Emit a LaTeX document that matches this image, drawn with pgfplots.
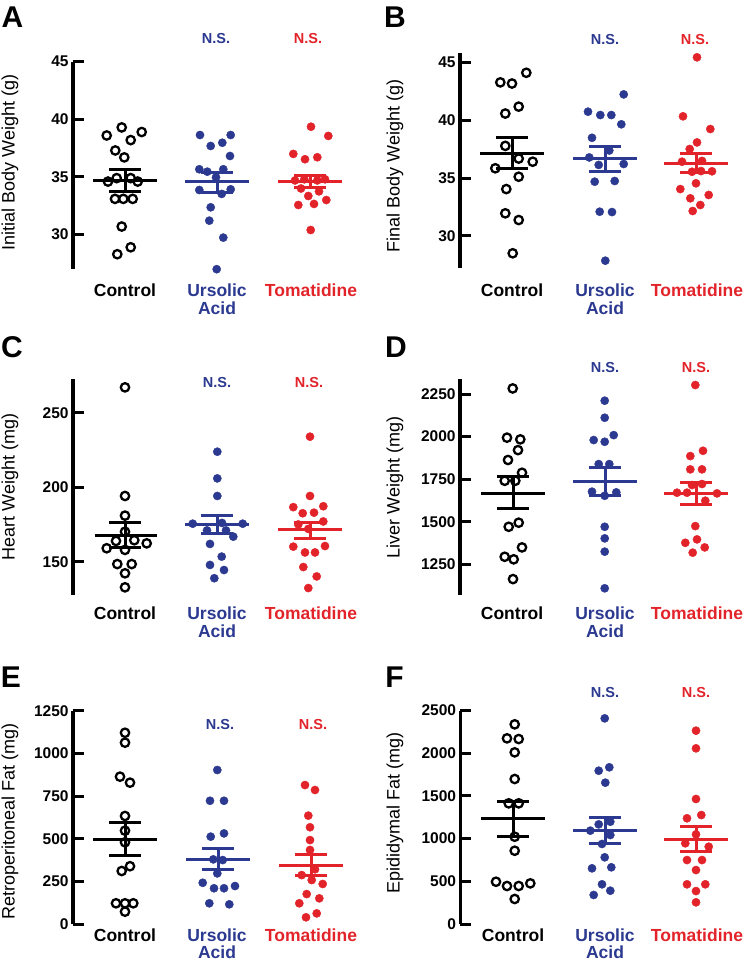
\documentclass[border=0pt]{standalone}
\usepackage{pgfplots}
\pgfplotsset{compat=1.18}
\usepackage{fontspec}
\setmainfont{Liberation Sans}
\definecolor{uablue}{RGB}{43,57,144}
\definecolor{tred}{RGB}{226,35,42}
\newcommand{\tickfont}{\bfseries\fontsize{15.5}{15.5}\selectfont}
\newcommand{\catfont}{\bfseries\fontsize{17.5}{17.5}\selectfont}
\newcommand{\labfont}{\fontsize{18}{18}\selectfont}
\newcommand{\nsfont}{\bfseries\fontsize{14.5}{14.5}\selectfont}
\newcommand{\letfont}{\bfseries\fontsize{30}{30}\selectfont}
\pgfplotsset{
  panel/.style={
    scale only axis, clip=false,
    separate axis lines,
    axis y line*=left, axis x line*=bottom,
    x axis line style={draw=none},
    y axis line style={line width=3.6pt, draw=black, -},
    every outer y axis line/.append style={line width=3.6pt},
    xtick style={draw=none},
    ytick style={line width=3pt, black},
    tick align=inside, major tick length=11pt,
    yticklabel style={font=\tickfont, inner sep=0pt, xshift=-4pt},
    xticklabel style={font=\catfont, inner sep=0pt, anchor=north, align=center},
    /pgf/number format/assume math mode=true,
    /pgf/number format/1000 sep={},
    ylabel style={font=\labfont, anchor=center},
    xticklabels={Control, {\textcolor{uablue}{Ursolic}\\\textcolor{uablue}{Acid}}, \textcolor{tred}{Tomatidine}},
  },
  ctrl/.style={only marks, mark=o, mark size=4.2pt, black, mark options={line width=2.3pt, draw=black}},
  urs/.style={only marks, mark=*, mark size=4.1pt, uablue, mark options={draw=none, fill=uablue}},
  tom/.style={only marks, mark=*, mark size=4.1pt, tred, mark options={draw=none, fill=tred}},
}
% colour, mean-left, mean-right, cap-left, cap-right, centre, mean, lower, upper
\newcommand{\msem}[9]{%
  \addplot[#1, line width=3pt, forget plot] coordinates {(#2,#7) (#3,#7)};
  \addplot[#1, line width=3pt, forget plot] coordinates {(#6,#8) (#6,#9)};
  \addplot[#1, line width=3pt, forget plot] coordinates {(#4,#8) (#5,#8)};
  \addplot[#1, line width=3pt, forget plot] coordinates {(#4,#9) (#5,#9)};
}
\begin{document}
\begin{tikzpicture}
\path[use as bounding box] (0,0) rectangle (745pt,-965pt);

% ---------------- A ----------------
\begin{axis}[panel, at={(72.7pt,-269.2pt)}, anchor=south west,
  width=290pt, height=207.5pt, xmin=72.7, xmax=362.7, ymin=27, ymax=45,
  ytick={30,35,40,45}, xtick={125,217,311},
  xticklabel style={yshift=-14.8pt},
  ylabel={Initial Body Weight (g)},
  ylabel style={at={(axis description cs:-0.2162,0.514)}}]
\addplot[ctrl] coordinates {(121.7,39.3) (141.7,38.9) (106.7,38.6) (130.7,38.2) (115.3,37.3) (124.3,36.7) (108,34.6) (116.7,34.9) (130.7,34.9) (137.7,34.6) (115,33.1) (123.3,33.1) (132.7,33.1) (121.7,30.7) (130.7,28.9) (117.3,28.3)};
\addplot[urs] coordinates {(200,38.64) (230.7,38.64) (210.7,37.69) (222.3,37.97) (230,36.82) (199.3,35.67) (207.3,35.46) (223.3,35.67) (216,34.97) (199.3,33.87) (230.7,33.93) (221.7,33.53) (210.7,32.37) (209.3,31.21) (223.3,29.74) (216.7,27.0)};
\addplot[tom] coordinates {(311,39.36) (328.3,38.56) (293.3,37.0) (305,36.54) (317.3,36.71) (295,34.7) (304.3,34.8) (317.3,34.7) (325,34.8) (301,34.0) (319,33.75) (308.3,33.35) (326.3,33.0) (298.3,32.57) (314,32.66) (310.7,30.4)};
\msem{black}{93}{157}{109}{141}{125}{34.72}{33.75}{35.69}
\msem{uablue}{185}{249}{201}{233}{217}{34.57}{33.67}{35.43}
\msem{tred}{278}{342}{294}{326}{310}{34.63}{34.1}{35.17}
\end{axis}

% ---------------- B ----------------
\begin{axis}[panel, at={(459.7pt,-268.3pt)}, anchor=south west,
  width=280pt, height=214.8pt, xmin=459.7, xmax=739.7, ymin=27.2, ymax=45.8,
  ytick={30,35,40,45}, xtick={512,605,697},
  xticklabel style={yshift=-15.7pt},
  ylabel={Final Body Weight (g)},
  ylabel style={at={(axis description cs:-0.2311,0.477)}}]
\addplot[ctrl] coordinates {(500.3,43.3) (512,43.2) (526.3,44.13) (505.3,40.6) (518.7,41.2) (505.3,37.8) (518.7,36.7) (495.3,35.86) (532.7,36.43) (518.7,35.13) (506.3,34.06) (505.3,31.96) (518.7,31.38) (512.7,28.5)};
\addplot[urs] coordinates {(588,40.76) (600.3,40.47) (611.3,40.47) (623.7,42.26) (621.3,39.67) (592,38.5) (589.3,36.8) (609.3,37.4) (598.7,36.15) (623.7,36.23) (594.7,34.7) (614.7,34.76) (599.7,32.1) (612,32.07) (605.3,27.86)};
\addplot[tom] coordinates {(697,45.47) (683,40.36) (710.3,39.26) (697,38.1) (689.7,37.53) (682,36.43) (702,36.5) (692,35.56) (701,35.62) (712,35.6) (680.3,34.06) (696,34.56) (708.7,33.55) (690.3,33.26) (700.3,32.68) (692.7,32.16)};
\msem{black}{480}{544}{496}{528}{512}{37.16}{35.86}{38.54}
\msem{uablue}{573}{637}{589}{621}{605}{36.72}{35.62}{37.73}
\msem{tred}{664}{728}{680}{712}{696}{36.29}{35.48}{37.16}
\end{axis}

% ---------------- C ----------------
\begin{axis}[panel, at={(72.7pt,-594.9pt)}, anchor=south west,
  width=290pt, height=215.6pt, xmin=72.7, xmax=362.7, ymin=127.7, ymax=272.4,
  ytick={150,200,250}, xtick={125,217,311},
  xticklabel style={yshift=-11.8pt},
  ylabel={Heart Weight (mg)},
  ylabel style={at={(axis description cs:-0.2162,0.5)}}]
\addplot[ctrl] coordinates {(125,267) (125,194.1) (125,180.9) (125,170.1) (116,163.9) (134.3,164.4) (106.7,159) (146.7,162.3) (125,157.9) (117.3,148.4) (131.7,148.4) (125,142.2) (125,132.8)};
\addplot[urs] coordinates {(217.3,223.8) (217.3,205.9) (217.3,194.1) (192.7,175.5) (207,171) (222,176) (226,171) (242.7,175.5) (233.3,166.8) (210,161.9) (221.7,153.4) (210,147.8) (224,144.4) (214.3,138.9)};
\addplot[tom] coordinates {(310,233.9) (310,194.1) (293.3,186.6) (323.3,187.2) (302.7,182.5) (314,182.9) (323.3,177) (298.3,175) (308.3,172) (293.3,160.1) (325,160.5) (305,156.2) (315,156.2) (303.3,146.4) (316.7,140.1) (308.3,132.3)};
\msem{black}{95}{157}{109}{141}{125}{167.9}{159.4}{176.4}
\msem{uablue}{185}{249}{201}{233}{217}{174.7}{168.6}{180.9}
\msem{tred}{278}{342}{294}{326}{310}{171.4}{165.7}{176.3}
\end{axis}

% ---------------- D ----------------
\begin{axis}[panel, at={(459.7pt,-595.1pt)}, anchor=south west,
  width=280pt, height=215.7pt, xmin=459.7, xmax=739.7, ymin=1070, ymax=2336,
  ytick={1250,1500,1750,2000,2250}, xtick={512,605,697},
  xticklabel style={yshift=-11.6pt},
  ylabel={Liver Weight (mg)},
  ylabel style={at={(axis description cs:-0.2311,0.5)}}]
\addplot[ctrl] coordinates {(512.7,2283) (507,1994) (520.3,1984) (518,1921) (508,1863) (522,1788) (504.7,1741) (515.3,1741) (508.7,1471) (518.7,1495) (522,1350) (504.7,1295) (513.7,1280) (513,1164)};
\addplot[urs] coordinates {(604.7,2211) (604.7,2111) (593.7,1980) (613.7,2009) (604.7,1970) (598.7,1839) (609.3,1839) (592,1677) (604.7,1653) (616.3,1673) (604.7,1471) (604.7,1403) (604.7,1325) (604.7,1110)};
\addplot[tom] coordinates {(695.3,2303) (690.3,1886) (703,1917) (690.3,1808) (702,1808) (692,1716) (702,1722) (677,1671) (687,1671) (717,1667) (705.3,1624) (695.3,1475) (685.3,1377) (697,1397) (704.7,1350) (692.7,1319)};
\msem{black}{481}{545}{497}{529}{513}{1667}{1579}{1765}
\msem{uablue}{573}{637}{589}{621}{605}{1735}{1653}{1818}
\msem{tred}{664}{728}{680}{712}{696}{1667}{1604}{1732}
\end{axis}

% ---------------- E ----------------
\begin{axis}[panel, at={(72.7pt,-924.3pt)}, anchor=south west,
  width=290pt, height=213.6pt, xmin=72.7, xmax=362.7, ymin=0, ymax=1250,
  ytick={0,250,500,750,1000,1250}, xtick={125,217,311},
  xticklabel style={yshift=-4pt},
  ylabel={Retroperitoneal Fat (mg)},
  ylabel style={at={(axis description cs:-0.2162,0.48)}}]
\addplot[ctrl] coordinates {(125,1121) (125,1063) (120,864) (130,829) (125,634) (125,548) (125,480) (130,340) (121.7,312) (116,123) (125,123) (133.3,123) (125,74)};
\addplot[urs] coordinates {(217.3,903) (210,723) (224,723) (210.7,513) (224,532) (222.7,376) (213.3,380) (217.3,298) (202.7,243) (214,211) (224,211) (235,224) (209.3,123) (229.3,117)};
\addplot[tom] coordinates {(305,815) (315,786) (308.3,636) (310,568) (310,493) (310,435) (315,322) (301.7,288) (311.7,259) (322.7,236) (306.7,177) (299.3,123) (319.3,152) (306,41) (316.7,64)};
\msem{black}{93}{157}{109}{141}{125}{499}{405}{594}
\msem{uablue}{186}{250}{202}{234}{218}{382}{318}{441}
\msem{tred}{279}{343}{295}{327}{311}{347}{287}{411}
\end{axis}

% ---------------- F ----------------
\begin{axis}[panel, at={(460.3pt,-924pt)}, anchor=south west,
  width=280pt, height=213.5pt, xmin=460.3, xmax=740.3, ymin=0, ymax=2500,
  ytick={0,500,1000,1500,2000,2500}, xtick={513,605,697},
  xticklabel style={yshift=-4.3pt},
  ylabel={Epididymal Fat (mg)},
  ylabel style={at={(axis description cs:-0.2332,0.52)}}]
\addplot[ctrl] coordinates {(514.7,2338) (507,2174) (518.7,2166) (514.7,2010) (514.7,1698) (508.7,1413) (518.7,1413) (514.7,1022) (514.7,858) (496,495) (507,445) (518.7,445) (530.3,476) (514.7,293)};
\addplot[urs] coordinates {(604.7,2408) (598.7,1795) (609.3,1835) (605.3,1655) (598.7,1167) (610.3,1198) (590.3,1093) (610.3,1042) (602,937) (604.7,781) (592,652) (611.3,664) (602,465) (593.7,340) (610.3,390)};
\addplot[tom] coordinates {(696,2264) (696,2057) (696,1464) (687,1238) (701.3,1276) (696,1050) (685.3,945) (708.7,905) (687,749) (702,749) (696,632) (687,465) (705.3,465) (696,386) (696,254)};
\msem{black}{481}{545}{497}{529}{513}{1230}{1030}{1432}
\msem{uablue}{573}{637}{589}{621}{605}{1093}{937}{1249}
\msem{tred}{664}{728}{680}{712}{696}{992}{851}{1139}
\end{axis}

% panel letters
\node[font=\letfont, inner sep=0pt] at (12.5pt,-17.5pt) {A};
\node[font=\letfont, inner sep=0pt] at (395pt,-17.5pt) {B};
\node[font=\letfont, inner sep=0pt] at (12pt,-347pt) {C};
\node[font=\letfont, inner sep=0pt] at (396pt,-347pt) {D};
\node[font=\letfont, inner sep=0pt] at (11pt,-677.5pt) {E};
\node[font=\letfont, inner sep=0pt] at (394.5pt,-677.5pt) {F};
% N.S. marks
\node[font=\nsfont, text=uablue, inner sep=0pt] at (216pt,-39pt) {N.S.};
\node[font=\nsfont, text=tred, inner sep=0pt] at (308pt,-39pt) {N.S.};
\node[font=\nsfont, text=uablue, inner sep=0pt] at (605pt,-40pt) {N.S.};
\node[font=\nsfont, text=tred, inner sep=0pt] at (695pt,-40pt) {N.S.};
\node[font=\nsfont, text=uablue, inner sep=0pt] at (217pt,-383pt) {N.S.};
\node[font=\nsfont, text=tred, inner sep=0pt] at (309pt,-383pt) {N.S.};
\node[font=\nsfont, text=uablue, inner sep=0pt] at (605pt,-368pt) {N.S.};
\node[font=\nsfont, text=tred, inner sep=0pt] at (696pt,-368pt) {N.S.};
\node[font=\nsfont, text=uablue, inner sep=0pt] at (220pt,-725pt) {N.S.};
\node[font=\nsfont, text=tred, inner sep=0pt] at (313pt,-725pt) {N.S.};
\node[font=\nsfont, text=uablue, inner sep=0pt] at (605pt,-693pt) {N.S.};
\node[font=\nsfont, text=tred, inner sep=0pt] at (696pt,-693pt) {N.S.};
\end{tikzpicture}
\end{document}
